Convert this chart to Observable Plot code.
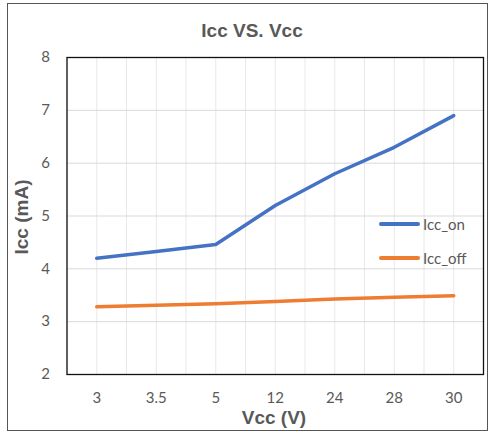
<!DOCTYPE html>
<html><head><meta charset="utf-8">
<script src="https://cdn.jsdelivr.net/npm/d3@7"></script>
<script src="https://cdn.jsdelivr.net/npm/@observablehq/plot@0.6"></script>
<style>
body{margin:0;background:#fff;}
#wrap{position:relative;width:490px;height:433px;overflow:hidden}
#border{position:absolute;left:7px;top:3px;width:479px;height:426px;border:1px solid #555;pointer-events:none}
#title{position:absolute;left:0;top:20px;width:504px;text-align:center;font:bold 19px "Liberation Sans",Arial,sans-serif;color:#595959}
#xlabel{position:absolute;left:0;top:407px;width:548px;text-align:center;font:bold 19px "Liberation Sans",Arial,sans-serif;color:#595959}
#ylabel{position:absolute;left:22px;top:217px;transform:translate(-50%,-50%) rotate(-90deg);white-space:nowrap;font:bold 19px "Liberation Sans",Arial,sans-serif;color:#595959}
#legend{position:absolute;left:379px;top:214px;font:15px Lato,sans-serif;color:#595959}
.li{display:flex;align-items:center;height:20px;margin-bottom:14px}
.sw{width:41px;height:4px;border-radius:2px;margin-right:3px}
</style></head>
<body>
<div id="wrap">
  <div id="chart"></div>
  <div id="title">Icc VS. Vcc</div>
  <div id="ylabel">Icc (mA)</div>
  <div id="xlabel">Vcc (V)</div>
  <div id="legend"></div>
  <div id="border"></div>
</div>
<script>
const vcc = ["3", "3.5", "5", "12", "24", "28", "30"];
const iccOn = [4.2, 4.33, 4.46, 5.2, 5.8, 6.3, 6.9];
const iccOff = [3.28, 3.31, 3.34, 3.38, 3.43, 3.46, 3.49];
const yTicks = [2, 3, 4, 5, 6, 7, 8];
const seriesNames = ["Icc_on", "Icc_off"];
const colors = ["#4472C4", "#ED7D31"];

const idx = vcc.map((_, i) => i);
const halfGrid = d3.range(-0.5, vcc.length - 0.49, 0.5);

const chart = Plot.plot({
  width: 490,
  height: 433,
  marginLeft: 66.5,
  marginRight: 7,
  marginTop: 57,
  marginBottom: 59,
  style: {fontFamily: "Lato, sans-serif", fontSize: "15px", color: "#595959", background: "transparent"},
  x: {type: "linear", domain: [-0.5, vcc.length - 0.5]},
  y: {domain: [2, 8]},
  marks: [
    Plot.gridX(halfGrid, {stroke: "#e8e8e8", strokeOpacity: 1, strokeWidth: 1}),
    Plot.gridY(yTicks, {stroke: "#d9d9d9", strokeOpacity: 1, strokeWidth: 1}),
    Plot.axisX(idx, {tickSize: 0, tickPadding: 18, tickFormat: i => vcc[i], label: null, fill: "#595959"}),
    Plot.axisY(yTicks, {tickSize: 0, tickPadding: 17, tickFormat: d => String(d), label: null, fill: "#595959"}),
    Plot.lineY(iccOff, {x: (d, i) => i, y: d => d, stroke: colors[1], strokeWidth: 3.5, strokeLinecap: "round"}),
    Plot.lineY(iccOn, {x: (d, i) => i, y: d => d, stroke: colors[0], strokeWidth: 3.5, strokeLinecap: "round"}),
    Plot.frame({stroke: "#111", strokeWidth: 1.3})
  ]
});
document.getElementById("chart").appendChild(chart);

const legend = document.getElementById("legend");
seriesNames.forEach((name, i) => {
  const row = document.createElement("div");
  row.className = "li";
  row.innerHTML = `<span class="sw" style="background:${colors[i]}"></span><span>${name}</span>`;
  legend.appendChild(row);
});
</script>
</body></html>
